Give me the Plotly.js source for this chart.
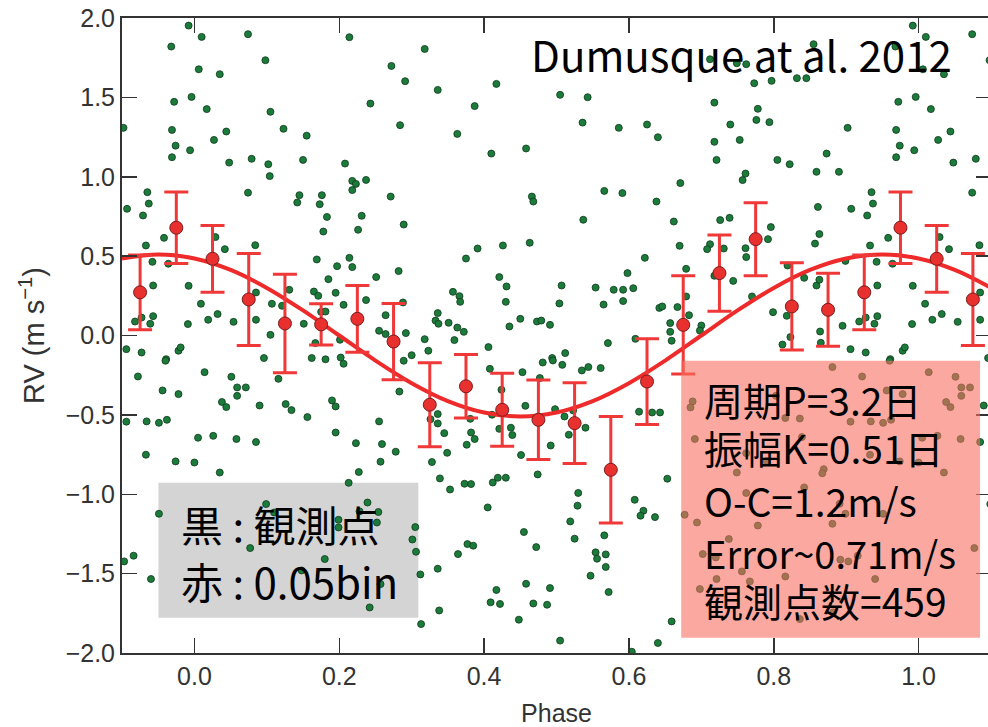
<!DOCTYPE html>
<html>
<head>
<meta charset="utf-8">
<script src="https://cdn.plot.ly/plotly-3.0.1.min.js"></script>
<style>
html,body{margin:0;padding:0;overflow:hidden;background:#fff;}
#chart{width:992px;height:727px;}
</style>
</head>
<body>
<div id="chart"></div>
<script>
// Observed RV points, phase in [0,1) (read from the figure)
const obsPhase = [
0.010,0.074,0.006,0.035,0.098,0.017,0.105,0.044,0.027,0.123,0.155,0.048,0.079,0.102,0.104,0.150,0.074,0.145,0.142,0.176,
0.173,0.183,0.178,0.029,0.042,0.084,0.169,0.185,0.009,0.019,0.032,0.054,0.085,0.085,0.107,0.131,0.121,0.165,0.171,0.175,
0.181,0.151,0.105,0.167,0.096,0.162,0.181,
0.214,0.318,0.272,0.291,0.336,0.417,0.243,0.387,0.505,0.543,0.284,0.363,0.536,0.586,0.625,0.640,0.410,0.458,0.208,0.218,
0.223,0.218,0.237,0.271,0.231,0.226,0.289,0.466,0.468,0.566,0.591,0.638,0.537,0.463,0.426,0.391,0.375,0.622,0.214,0.197,
0.218,0.251,0.282,0.195,0.206,0.237,0.288,0.421,0.431,0.430,0.507,0.504,0.554,0.579,0.592,0.606,0.598,0.592,0.565,0.642,
0.357,0.366,0.367,0.336,0.333,0.337,0.351,0.363,0.372,0.359,0.318,0.323,0.300,0.292,0.264,0.255,0.264,0.201,0.202,0.406,
0.435,0.450,0.473,0.479,0.491,0.512,0.494,0.571,0.609,
0.992,0.855,0.712,0.749,0.762,0.773,0.797,0.832,0.845,0.718,0.778,0.776,0.794,0.740,0.972,0.996,0.902,0.969,0.974,0.994,
0.969,0.718,0.753,0.721,0.805,0.822,0.873,0.859,0.890,0.761,0.757,0.671,0.935,0.937,0.929,0.907,0.861,0.662,0.726,0.739,
0.796,0.792,0.863,0.857,0.670,0.712,0.708,0.731,0.761,0.762,0.958,0.933,0.942,0.964,0.899,0.679,0.718,0.744,0.819,0.842,
0.859,0.863,0.943,0.992,0.646,0.667,0.679,0.683,0.657,0.657,0.659,0.700,0.698,0.770,0.799,0.818,0.812,0.823,0.864,0.865,
0.895,0.918,0.927,0.939,0.943,0.991,0.906,0.927,0.978,0.981,0.961,0.968,
0.014,0.051,0.059,0.071,0.059,0.038,0.044,0.090,0.126,0.134,0.156,0.116,0.005,0.026,0.058,0.085,0.000,0.035,0.099,0.110,
0.077,0.180,
0.206,0.289,0.283,0.190,0.195,0.195,0.255,0.223,0.259,0.278,0.257,0.227,0.213,0.326,0.336,0.336,0.345,0.349,0.328,0.339,
0.353,0.373,0.382,0.381,0.382,0.376,0.387,0.408,0.424,0.411,0.421,0.437,0.439,0.453,0.477,0.481,0.508,0.535,0.544,0.561,
0.495,0.457,0.498,0.511,0.523,0.540,0.517,0.492,0.451,0.474,0.412,0.419,0.430,0.405,0.455,0.472,0.530,0.529,0.519,0.525,
0.566,0.554,0.568,0.556,0.568,0.547,0.572,0.458,0.491,0.417,0.409,0.422,0.468,0.487,0.448,0.505,0.604,0.640,0.608,0.620,
0.616,0.636,0.614,0.632,0.643,0.364,0.377,0.385,0.336,0.338,0.313,0.312,0.305,0.301,0.306,0.242,0.239,0.252,0.257,
0.228,0.254,0.199,0.199,0.148,
0.653,0.659,0.960,0.881,0.922,0.956,0.978,0.688,0.685,0.803,0.816,0.836,0.906,0.934,0.951,0.962,0.691,0.749,0.790,0.869,
0.974,0.933,0.762,0.842,0.891,0.899,0.951,0.881,0.778,0.694,0.677,0.702,0.720,0.738,0.892,0.916,0.756,0.721,0.767,0.816,
0.940,0.836,0.882,0.762,0.839,0.698,0.903,0.867
];
const obsRV = [
1.881,1.898,1.677,1.646,1.734,1.426,1.409,1.285,1.232,1.302,1.259,1.089,1.113,1.079,1.004,1.106,0.900,0.884,0.838,0.884,
0.827,0.747,0.655,0.620,0.544,0.569,0.479,0.355,0.200,0.099,0.135,0.086,0.099,0.271,0.200,0.288,0.187,0.277,0.250,0.149,
0.151,0.074,0.004,-0.048,-0.142,-0.142,-0.150,
1.879,1.805,1.698,1.602,1.547,1.585,1.461,1.445,1.516,1.501,1.325,1.270,1.341,1.308,1.329,1.249,1.146,1.178,1.083,0.974,
0.955,0.916,0.980,0.875,0.754,0.666,0.699,0.875,0.844,0.911,0.897,0.844,0.729,0.584,0.567,0.548,0.485,0.489,0.489,0.437,
0.431,0.368,0.406,0.269,0.193,0.223,0.208,0.368,0.309,0.212,0.315,0.202,0.302,0.288,0.288,0.298,0.393,0.217,0.195,0.174,
0.275,0.248,0.212,0.141,0.094,0.074,0.080,0.050,0.023,-0.029,-0.023,-0.096,-0.124,0.015,0.128,0.030,0.009,-0.027,-0.139,-0.073,
0.057,0.105,0.088,0.094,0.067,-0.111,-0.142,-0.048,-0.021,
1.952,1.835,1.740,1.715,1.709,1.589,1.604,1.621,1.621,1.467,1.428,1.358,1.344,1.329,1.472,1.503,1.308,1.295,1.196,1.167,
1.123,1.220,1.232,1.106,1.106,1.079,1.146,1.031,1.031,1.020,0.979,0.960,0.903,0.831,0.756,0.798,0.810,0.718,0.727,0.741,
0.683,0.607,0.639,0.579,0.565,0.575,0.544,0.548,0.550,0.494,0.615,0.567,0.464,0.452,0.470,0.420,0.376,0.344,0.441,0.363,
0.315,0.351,0.315,0.313,0.183,0.179,0.246,0.128,0.078,0.023,-0.033,0.063,0.031,0.246,0.147,0.124,-0.057,-0.010,0.025,-0.046,
0.061,0.088,0.113,0.074,0.122,0.072,-0.086,-0.107,-0.096,-0.075,-0.149,1.820,
-0.231,-0.260,-0.327,-0.327,-0.380,-0.419,-0.451,-0.441,-0.432,-0.470,-0.514,-0.273,-0.644,-0.632,-0.652,-0.671,-0.800,-0.863,-1.062,-1.115,
-1.339,-1.408,
-0.178,-0.159,-0.353,-0.409,-0.447,-0.611,-0.541,-0.678,-0.684,-0.732,-0.795,-0.860,-0.928,-0.527,-0.495,-0.554,-0.615,-0.739,-0.797,-0.900,
-0.970,-0.934,-0.936,-0.525,-0.611,-0.688,-0.652,-0.210,-0.342,-0.499,-0.588,-0.581,-0.627,-0.231,-0.268,-0.170,-0.185,-0.220,-0.199,-0.205,
-0.157,-0.443,-0.464,-0.510,-0.472,-0.581,-0.625,-0.693,-0.753,-0.875,-0.926,-0.896,-0.896,-1.083,-1.238,-1.333,-0.992,-1.072,-1.171,-1.280,
-1.259,-1.366,-1.379,-1.406,-1.458,-1.513,-1.616,-1.564,-1.591,-1.603,-1.681,-1.691,-1.688,-1.696,-1.790,-1.922,-1.992,-1.937,-1.035,-1.104,
-1.135,-1.144,-0.480,-0.485,-0.485,-1.377,-1.314,-1.324,-1.469,-1.732,-1.818,-1.505,-1.207,-1.285,-1.362,-1.713,-1.052,-1.178,-1.566,
-1.108,-1.112,-1.161,-1.209,-1.480,
-0.902,-1.801,-0.159,-0.199,-0.258,-0.346,-0.369,-0.415,-0.453,-0.380,-0.520,-0.523,-0.543,-0.541,-0.550,-0.531,-0.652,-0.863,-0.791,-0.842,
-0.793,-0.751,-0.992,-0.957,-1.060,-1.123,-1.123,-1.186,-1.197,-1.178,-1.129,-1.377,-1.398,-1.282,-1.412,-1.387,-1.486,-1.534,-1.549,-1.518,
-1.534,-1.786,-1.744,-0.741,-0.640,-1.597,-1.423,-0.868
];

// 0.05-phase bins (red), phase in [0,1)
const binPhase = [0.025,0.075,0.125,0.175,0.225,0.275,0.325,0.375,0.425,0.475,0.525,0.575,0.625,0.675,0.725,0.775,0.825,0.875,0.925,0.975];
const binRV    = [0.483,0.227,0.076,0.070,0.105,-0.038,-0.436,-0.320,-0.468,-0.531,-0.552,-0.846,-0.290,0.067,0.393,0.607,0.183,0.162,0.272,0.679];
const binErr   = [0.210,0.290,0.310,0.130,0.210,0.240,0.265,0.200,0.230,0.250,0.255,0.335,0.270,0.310,0.240,0.230,0.275,0.230,0.235,0.225];

// Fitted Keplerian curve
const fitPhase = [-0.10,-0.05,0.00,0.05,0.10,0.15,0.20,0.25,0.30,0.35,0.40,0.45,0.50,0.55,0.60,0.65,0.70,0.75,0.80,0.85,0.90,0.95,1.00,1.05,1.10];
const fitRV    = [0.485,0.510,0.485,0.413,0.300,0.158,0.000,-0.158,-0.300,-0.413,-0.485,-0.510,-0.485,-0.413,-0.300,-0.158,0.000,0.158,0.300,0.413,0.485,0.510,0.485,0.413,0.300];

const xTicks = [0.0,0.2,0.4,0.6,0.8,1.0];
const xTickText = ['0.0','0.2','0.4','0.6','0.8','1.0'];

// phase-folded plot repeats points within 0.1 of the edges
function wrap(px, py, pe){
  const X=[],Y=[],E=[];
  for(let i=0;i<px.length;i++){
    X.push(px[i]); Y.push(py[i]); if(pe) E.push(pe[i]);
    if(px[i]>=0.9){X.push(px[i]-1); Y.push(py[i]); if(pe) E.push(pe[i]);}
    if(px[i]<0.1){X.push(px[i]+1); Y.push(py[i]); if(pe) E.push(pe[i]);}
  }
  return [X,Y,E];
}
const [ox,oy] = wrap(obsPhase, obsRV);
const [bx,by,be] = wrap(binPhase, binRV, binErr);

const traces = [
  {type:'scatter', mode:'markers', x:ox, y:oy, hoverinfo:'skip',
   marker:{size:7, color:'#1c7a3b', line:{color:'#0c3a1b', width:0.8}}},
  {type:'scatter', mode:'lines', x:fitPhase, y:fitRV, hoverinfo:'skip',
   line:{color:'#ee2a2a', width:4, shape:'spline'}},
  {type:'scatter', mode:'markers', x:bx, y:by, hoverinfo:'skip',
   error_y:{type:'data', array:be, visible:true, color:'#ef3838', thickness:3, width:12},
   marker:{size:13, color:'#e8302e', line:{color:'#7a1c1c', width:1}}}
];

const tickFont = {family:'Liberation Sans, Arial, sans-serif', size:25, color:'#333'};
const xTitleFont = {family:'Liberation Sans, Arial, sans-serif', size:25, color:'#333'};
const yTitleFont = {family:'Liberation Sans, Arial, sans-serif', size:29, color:'#333'};
const cjk = 'Noto Sans CJK JP, sans-serif';

function ann(x,y,text,size,xanchor){
  return {x:x, y:y, xref:'x', yref:'y', text:text, showarrow:false,
          xanchor:xanchor||'left', yanchor:'middle',
          font:{family:cjk, size:size, color:'#000'}};
}

const layout = {
  width:992, height:727,
  margin:{l:122, r:1, t:18, b:74},
  paper_bgcolor:'#fff', plot_bgcolor:'#fff',
  showlegend:false,
  xaxis:{range:[-0.1,1.1], tickvals:xTicks, ticktext:xTickText,
         ticks:'inside', ticklen:15, tickwidth:1.5, tickcolor:'#333',
         showline:true, linecolor:'#333', linewidth:2, mirror:'ticks',
         showgrid:false, zeroline:false, tickfont:tickFont,
         title:{text:'Phase', font:xTitleFont, standoff:16}},
  yaxis:{range:[-2,2], dtick:0.5, tick0:0, tickformat:'.1f',
         ticks:'inside', ticklen:15, tickwidth:1.5, tickcolor:'#333',
         showline:true, linecolor:'#333', linewidth:2, mirror:'ticks',
         showgrid:false, zeroline:false, tickfont:tickFont,
         title:{text:'RV (m s<sup>−1</sup>)', font:yTitleFont, standoff:12}},
  shapes:[
    {type:'rect', xref:'x', yref:'y', x0:-0.0497, x1:0.3092, y0:-1.778, y1:-0.928,
     fillcolor:'#d4d4d4', line:{width:0}, layer:'below'},
    {type:'rect', xref:'x', yref:'y', x0:0.6722, x1:1.0849, y0:-1.904, y1:-0.159,
     fillcolor:'rgb(248,112,96)', opacity:0.6, line:{width:0}, layer:'above'}
  ],
  annotations:[
    ann(0.7557, 1.775, 'Dumusque at al. 2012', 42, 'center'),
    ann(-0.021, -1.186, '黒 : 観測点', 42),
    ann(-0.021, -1.545, '赤 : 0.05bin', 42),
    ann(0.7012, -0.400, '周期P=3.2日', 39),
    ann(0.7012, -0.705, '振幅K=0.51日', 39),
    ann(0.7012, -1.035, 'O-C=1.2m/s', 39),
    ann(0.7012, -1.369, 'Error~0.71m/s', 38),
    ann(0.7012, -1.665, '観測点数=459', 39)
  ]
};

Plotly.newPlot('chart', traces, layout, {displayModeBar:false, staticPlot:true});
</script>
</body>
</html>
